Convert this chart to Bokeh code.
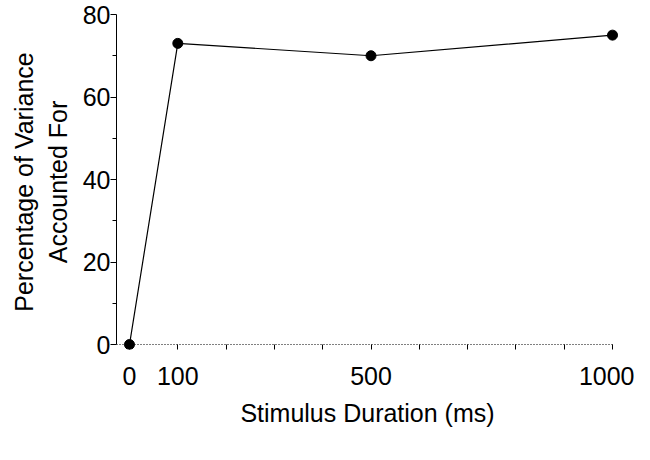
from bokeh.plotting import figure
from bokeh.models import FixedTicker, Range1d, LinearAxis
from bokeh.embed import file_html
from bokeh.resources import INLINE

# Data
durations = [0, 100, 500, 1000]
variance_pct = [0, 73, 70, 75]

x_major_ticks = [0, 100, 500, 1000]
x_all_ticks = [0, 100, 200, 300, 400, 500, 600, 700, 800, 900, 1000]
y_major_ticks = [0, 20, 40, 60, 80]
y_minor_ticks = [10, 30, 50, 70]

x_title = "Stimulus Duration (ms)"
y_title = "Percentage of Variance\nAccounted For"

FONT = "Liberation Sans"
X_START = -26.9
X_END = 1012.4

p = figure(width=634, height=444, output_backend="svg", toolbar_location=None,
           x_range=Range1d(X_START, X_END), y_range=Range1d(-1.2, 80),
           min_border_left=116, min_border_right=16, min_border_top=14,
           min_border_bottom=95)

p.outline_line_color = None
p.xgrid.visible = False
p.ygrid.visible = False
p.background_fill_color = "white"
p.border_fill_color = "white"

p.line(durations, variance_pct, line_color="black", line_width=1.2)
p.scatter(durations, variance_pct, size=10, fill_color="black", line_color="black")

# X axis (labels and title only, at the frame bottom)
xa = p.xaxis[0]
xa.ticker = FixedTicker(ticks=x_major_ticks, minor_ticks=[])
xa.axis_line_color = None
xa.major_tick_line_color = None
xa.minor_tick_line_color = None
xa.major_tick_out = 2
xa.major_tick_in = 0
xa.minor_tick_out = 0
xa.minor_tick_in = 0
xa.major_label_standoff = 15
xa.major_label_text_font = FONT
xa.major_label_text_font_size = "25px"
xa.major_label_text_color = "black"
xa.axis_label = x_title
xa.axis_label_text_font = FONT
xa.axis_label_text_font_size = "25px"
xa.axis_label_text_font_style = "normal"
xa.axis_label_text_color = "black"
xa.axis_label_standoff = 11

# X axis line and ticks (no labels), placed at y = 0
xline = LinearAxis(ticker=FixedTicker(ticks=[], minor_ticks=x_all_ticks),
                   fixed_location=0, bounds=(X_START, 1000))
xline.axis_line_color = "black"
xline.axis_line_dash = "1 2"
xline.axis_line_width = 1
xline.major_tick_out = 0
xline.major_tick_in = 0
xline.minor_tick_out = 7
xline.minor_tick_in = 0
xline.minor_tick_line_color = "black"
xline.major_label_standoff = 0
p.add_layout(xline, "below")

# Y axis
ya = p.yaxis[0]
ya.ticker = FixedTicker(ticks=y_major_ticks, minor_ticks=y_minor_ticks)
ya.bounds = (0, 80)
ya.axis_line_color = "black"
ya.axis_line_width = 1
ya.major_tick_out = 6
ya.major_tick_in = 0
ya.minor_tick_out = 4
ya.minor_tick_in = 0
ya.major_tick_line_color = "black"
ya.minor_tick_line_color = "black"
ya.major_label_standoff = 0
ya.major_label_text_font = FONT
ya.major_label_text_font_size = "25px"
ya.major_label_text_color = "black"
ya.axis_label = y_title
ya.axis_label_text_font = FONT
ya.axis_label_text_font_size = "25px"
ya.axis_label_text_font_style = "normal"
ya.axis_label_text_color = "black"
ya.axis_label_standoff = 8

open("out.html", "w").write(file_html(p, INLINE))
